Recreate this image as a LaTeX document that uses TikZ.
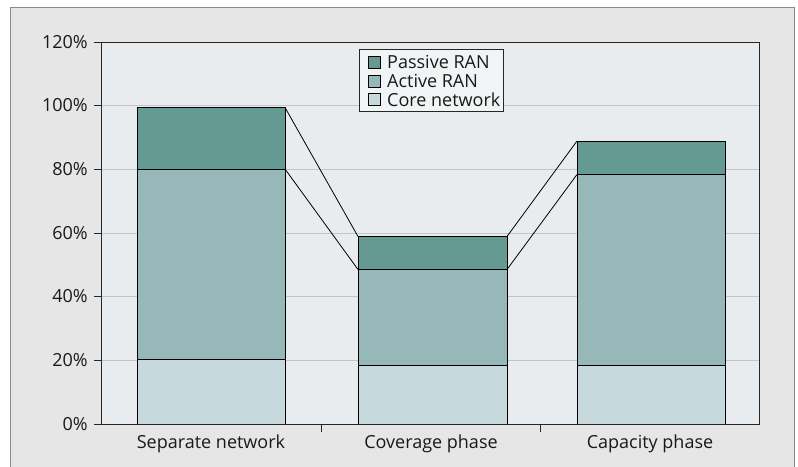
\documentclass[tikz,border=0pt]{standalone}
\usepackage{fontspec}
\setmainfont{Open Sans}
\definecolor{outerbg}{HTML}{E6E6E6}
\definecolor{plotbg}{HTML}{E8ECEE}
\definecolor{passive}{HTML}{649A92}
\definecolor{active}{HTML}{96B8B9}
\definecolor{core}{HTML}{C7D9DD}
\definecolor{gridc}{HTML}{C4C4C4}
\definecolor{legbg}{HTML}{F1F4F5}
\definecolor{framec}{HTML}{8A8A8A}
\tikzset{
  seg/.style={draw=black, line width=0.9pt},
  lbl/.style={font=\fontsize{18}{21}\selectfont, inner sep=0pt, text=black!90},
  legsq/.style={draw=black, line width=0.8pt, minimum size=12pt, inner sep=0pt},
}
\begin{document}
\begin{tikzpicture}[x=1pt,y=-1pt]
\useasboundingbox (0,0) rectangle (798,466);
\fill[white] (0,0) rectangle (798,466);
% outer frame
\fill[outerbg] (10,7) rectangle (794,470);
\draw[framec, line width=0.8pt] (10,470) -- (10,7) -- (794,7) -- (794,470);
% plot area
\fill[plotbg] (101,42) rectangle (759,424);
% grid lines
\foreach \yy in {105,169,233,296,360}
  \draw[gridc, line width=1pt] (101,\yy) -- (759,\yy);
% bar 1
\fill[core] (137,424) rectangle (285,359);
\fill[active] (137,359) rectangle (285,169);
\fill[passive] (137,169) rectangle (285,107.5);
\draw[seg] (137,424) rectangle (285,359);
\draw[seg] (137,359) rectangle (285,169);
\draw[seg] (137,169) rectangle (285,107.5);
% bar 2
\fill[core] (358,424) rectangle (507,365.5);
\fill[active] (358,365.5) rectangle (507,269.5);
\fill[passive] (358,269.5) rectangle (507,236.5);
\draw[seg] (358,424) rectangle (507,365.5);
\draw[seg] (358,365.5) rectangle (507,269.5);
\draw[seg] (358,269.5) rectangle (507,236.5);
% bar 3
\fill[core] (577,424) rectangle (725,365.5);
\fill[active] (577,365.5) rectangle (725,174.5);
\fill[passive] (577,174.5) rectangle (725,141);
\draw[seg] (577,424) rectangle (725,365.5);
\draw[seg] (577,365.5) rectangle (725,174.5);
\draw[seg] (577,174.5) rectangle (725,141);
% series lines
\coordinate (a1) at (285,107.5);
\coordinate (a2) at (358,236.5);
\coordinate (b1) at (285,169);
\coordinate (b2) at (358,269.5);
\coordinate (c1) at (507,236.5);
\coordinate (c2) at (577,141);
\coordinate (d1) at (507,269.5);
\coordinate (d2) at (577,174.5);
\draw[line width=0.8pt] (a1) -- (a2);
\draw[line width=0.8pt] (b1) -- (b2);
\draw[line width=0.8pt] (c1) -- (c2);
\draw[line width=0.8pt] (d1) -- (d2);
% axes
\draw[black!85, line width=0.9pt] (759,424) -- (759,42) -- (101,42) -- (101,424) -- cycle;
\foreach \yy/\t in {424/0\%,360/20\%,296/40\%,233/60\%,169/80\%,105/100\%,42/120\%}{
  \draw[black!85, line width=0.9pt] (94,\yy) -- (101,\yy);
  \node[lbl, anchor=east] (yl\yy) at (88,\yy) {\t};
}
\foreach \xx in {321,540}
  \draw[black!85, line width=0.9pt] (\xx,424) -- (\xx,432);
\node[lbl] (x1) at (211,444) {Separate network};
\node[lbl] (x2) at (431,444) {Coverage phase};
\node[lbl] (x3) at (650,444) {Capacity phase};
% legend
\draw[fill=legbg, draw=black!85, line width=0.8pt] (359,49) rectangle (503,111);
\node[legsq, fill=passive] (s1) at (374,62) {};
\node[legsq, fill=active] (s2) at (374,81) {};
\node[legsq, fill=core] (s3) at (374,99.5) {};
\node[lbl, anchor=west] (t1) at (387,62) {Passive RAN};
\node[lbl, anchor=west] (t2) at (387,81) {Active RAN};
\node[lbl, anchor=west] (t3) at (387,99.5) {Core network};
\end{tikzpicture}
\end{document}
